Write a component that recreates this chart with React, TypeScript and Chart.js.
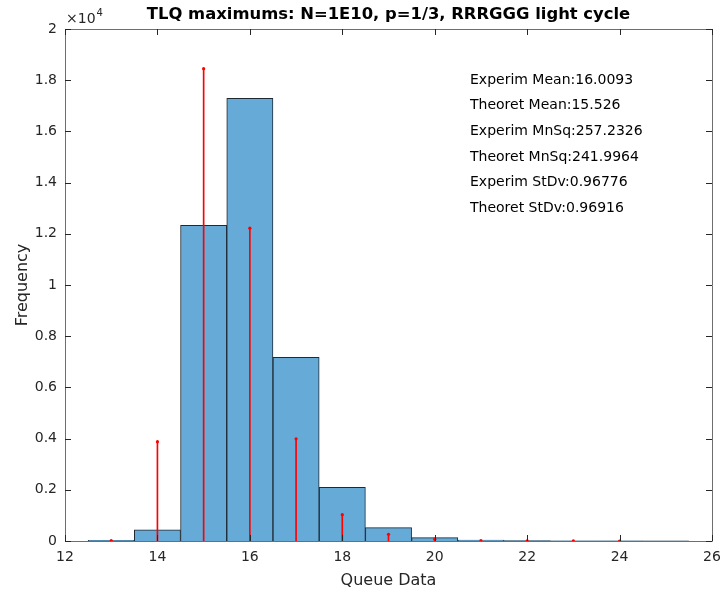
import React, { useEffect, useRef } from "react";
import { Chart, registerables } from "chart.js";

Chart.register(...registerables);

const binCenters = [13, 14, 15, 16, 17, 18, 19, 20, 21, 22, 23, 24, 25];
const binCounts = [30, 440, 12330, 17290, 7170, 2100, 520, 130, 40, 15, 8, 5, 3];
const stemX = [13, 14, 15, 16, 17, 18, 19, 20, 21, 22, 23, 24];
const stemY = [15, 3880, 18450, 12220, 3990, 1030, 260, 70, 15, 4, 1, 0.3];
const statLines = [
  "Experim Mean:16.0093",
  "Theoret Mean:15.526",
  "Experim MnSq:257.2326",
  "Theoret MnSq:241.9964",
  "Experim StDv:0.96776",
  "Theoret StDv:0.96916",
];
const titleText = "TLQ maximums: N=1E10, p=1/3, RRRGGG light cycle";
const FONT = "'DejaVu Sans', sans-serif";
const AXIS = "#262626";

const matlabAxes = {
  id: "matlabAxes",
  afterDatasetsDraw(chart: any) {
    const { ctx, chartArea: a, scales } = chart;
    const xs = scales.x;
    const ys = scales.y;
    ctx.save();
    ctx.strokeStyle = "#6e6e6e";
    ctx.lineWidth = 1;
    ctx.beginPath();
    ctx.rect(Math.round(a.left) + 0.5, Math.round(a.top) + 0.5, Math.round(a.right - a.left), Math.round(a.bottom - a.top));
    ctx.stroke();
    ctx.strokeStyle = AXIS;
    ctx.beginPath();
    const tl = 6;
    xs.ticks.forEach((t: any) => {
      const px = Math.round(xs.getPixelForValue(t.value)) + 0.5;
      ctx.moveTo(px, a.bottom);
      ctx.lineTo(px, a.bottom - tl);
      ctx.moveTo(px, a.top);
      ctx.lineTo(px, a.top + tl);
    });
    ys.ticks.forEach((t: any) => {
      const py = Math.round(ys.getPixelForValue(t.value)) + 0.5;
      ctx.moveTo(a.left, py);
      ctx.lineTo(a.left + tl, py);
      ctx.moveTo(a.right, py);
      ctx.lineTo(a.right - tl, py);
    });
    ctx.stroke();
    // exponent label
    ctx.fillStyle = AXIS;
    ctx.textBaseline = "alphabetic";
    ctx.textAlign = "left";
    ctx.font = `14px ${FONT}`;
    ctx.fillText("\u00d710", a.left + 1, a.top - 6);
    const w = ctx.measureText("\u00d710").width;
    ctx.font = `10px ${FONT}`;
    ctx.fillText("4", a.left + 1 + w + 1, a.top - 13);
    // stats text
    ctx.fillStyle = "#000";
    ctx.font = `14px ${FONT}`;
    ctx.textBaseline = "middle";
    statLines.forEach((s, i) => {
      ctx.fillText(s, a.left + 405, a.top + 51 + i * 25.7);
    });
    ctx.restore();
  },
};

export default function App() {
  const ref = useRef<HTMLCanvasElement>(null);
  useEffect(() => {
    document.body.style.margin = "0";
    const chart = new Chart(ref.current as HTMLCanvasElement, {
      type: "bar",
      data: {
        datasets: [
          {
            type: "scatter",
            data: stemX.map((x, i) => ({ x, y: stemY[i] })),
            pointRadius: 1.6,
            pointBackgroundColor: "#ff0000",
            pointBorderWidth: 0,
            order: 0,
          } as any,
          {
            type: "bar",
            data: stemX.map((x, i) => ({ x, y: stemY[i] })),
            backgroundColor: "#ff0000",
            barThickness: 1,
            grouped: false,
            order: 1,
          } as any,
          {
            type: "bar",
            data: binCenters.map((x, i) => ({ x, y: binCounts[i] })),
            backgroundColor: "rgb(102,170,215)",
            borderColor: "#1e2a33",
            borderWidth: 1,
            categoryPercentage: 1,
            barPercentage: 1,
            grouped: false,
            order: 2,
          } as any,
        ],
      },
      options: {
        animation: false,
        responsive: false,
        maintainAspectRatio: false,
        layout: { padding: { left: 0, right: 10, top: 0, bottom: 0 } },
        plugins: {
          legend: { display: false },
          tooltip: { enabled: false },
          title: {
            display: true,
            fullSize: false,
            text: titleText,
            color: "#000",
            font: { family: FONT, size: 16.4, weight: "bold" },
            padding: { top: 5.3, bottom: 4.0 },
          },
        },
        scales: {
          x: {
            type: "linear",
            min: 12,
            max: 26,
            offset: false,
            grid: { display: false, drawTicks: false },
            border: { display: false },
            ticks: {
              stepSize: 2,
              color: AXIS,
              padding: 8,
              font: { family: FONT, size: 14 },
            },
            title: {
              display: true,
              text: "Queue Data",
              color: AXIS,
              font: { family: FONT, size: 16 },
              padding: { top: 2, bottom: 2 },
            },
            afterFit: (s: any) => {
              s.height = 51;
              s.paddingRight = 0;
              s.paddingLeft = 0;
            },
          },
          y: {
            type: "linear",
            min: 0,
            max: 20000,
            grid: { display: false, drawTicks: false },
            border: { display: false },
            ticks: {
              stepSize: 2000,
              color: AXIS,
              padding: 8,
              font: { family: FONT, size: 14 },
              callback: (v: any) => String(Math.round((v / 10000) * 10) / 10),
            },
            title: {
              display: true,
              text: "Frequency",
              color: AXIS,
              font: { family: FONT, size: 16 },
              padding: { top: 13, bottom: 0 },
            },
            afterFit: (s: any) => {
              s.width = 65;
              s.paddingTop = 0;
              s.paddingBottom = 0;
            },
          },
        },
      } as any,
      plugins: [matlabAxes],
    });
    return () => chart.destroy();
  }, []);
  return (
    <div style={{ position: "fixed", left: 0, top: 0, width: 722, height: 592, background: "#fff" }}>
      <canvas ref={ref} width={722} height={592} />
    </div>
  );
}
